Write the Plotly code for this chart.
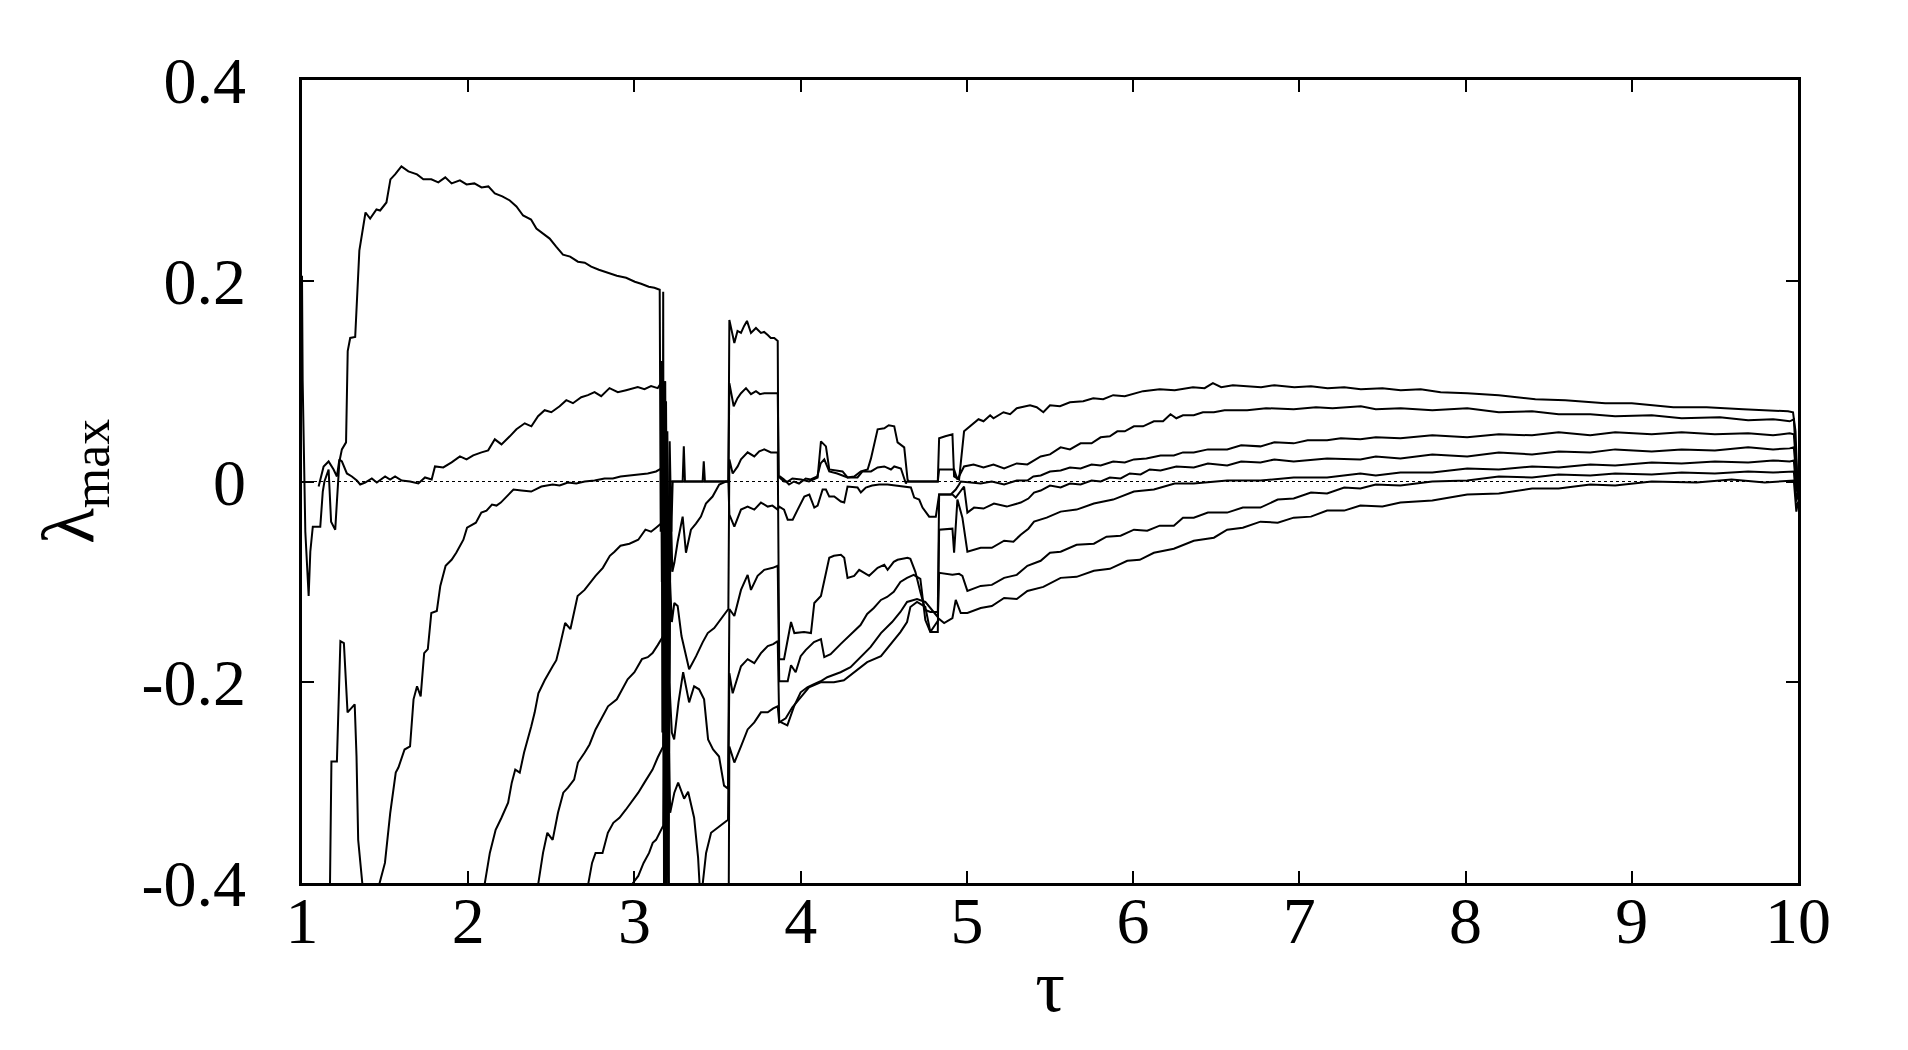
import plotly.graph_objects as go

# tick labels
x_ticks = [1, 2, 3, 4, 5, 6, 7, 8, 9, 10]
x_tick_text = ["1", "2", "3", "4", "5", "6", "7", "8", "9", "10"]
y_ticks = [0.4, 0.2, 0, -0.2, -0.4]
y_tick_text = ["0.4", "0.2", "0", "-0.2", "-0.4"]

# curve A (top one)
tau_a = [1.000, 1.004, 1.02, 1.04, 1.05, 1.065, 1.11, 1.125, 1.135, 1.16, 1.175, 1.20, 1.21, 1.225, 1.24, 1.265,
         1.275, 1.29, 1.32, 1.33, 1.345, 1.382, 1.41, 1.448, 1.47, 1.508, 1.532, 1.56, 1.598, 1.64, 1.692, 1.73,
         1.778, 1.82, 1.862, 1.90, 1.950, 1.99, 2.037, 2.08, 2.121, 2.16, 2.205, 2.25, 2.290, 2.33, 2.378, 2.41,
         2.444, 2.49, 2.529, 2.57, 2.613, 2.66, 2.701, 2.74, 2.786, 2.84, 2.894, 2.95, 3.002, 3.04, 3.086, 3.12, 3.152,
         3.158, 3.163, 3.168, 3.173, 3.178, 3.185, 3.19, 3.198, 3.206, 3.215,
         3.24, 3.29, 3.297, 3.304, 3.41, 3.417, 3.424, 3.565,
         3.571, 3.601, 3.62, 3.641, 3.66, 3.677, 3.701, 3.731, 3.761, 3.78, 3.802, 3.82, 3.841, 3.862,
         3.866, 3.9, 3.922, 3.95, 4.002, 4.05, 4.102, 4.112, 4.122, 4.152, 4.172, 4.252, 4.282, 4.322, 4.362, 4.403,
         4.423, 4.463, 4.503, 4.53, 4.563, 4.583, 4.623, 4.643, 4.65, 4.825, 4.833, 4.87, 4.913, 4.923, 4.953, 4.983,
         5.043, 5.07, 5.10, 5.14, 5.16, 5.22, 5.26, 5.30, 5.38, 5.42, 5.46, 5.50, 5.56, 5.62, 5.70, 5.76, 5.82, 5.88,
         5.95, 6.06, 6.16, 6.25, 6.36, 6.43, 6.48, 6.53, 6.6, 6.77, 6.85, 6.97, 7.07, 7.17, 7.27, 7.37, 7.5, 7.61,
         7.73, 7.85, 8.01, 8.2, 8.42, 8.6, 8.84, 9.0, 9.25, 9.45, 9.67, 9.85, 9.94, 9.97, 9.985, 10.0]
lam_a = [0.205, 0.10, -0.05, -0.114, -0.07, -0.045, -0.045, -0.01, 0.0, 0.012, -0.04, -0.048, -0.02, 0.02, 0.032, 0.039,
         0.13, 0.143, 0.144, 0.18, 0.23, 0.268, 0.262, 0.271, 0.27, 0.278, 0.301, 0.306, 0.314, 0.309, 0.306, 0.301,
         0.301, 0.298, 0.303, 0.297, 0.300, 0.296, 0.297, 0.293, 0.294, 0.287, 0.284, 0.28, 0.274, 0.265, 0.261, 0.252,
         0.248, 0.242, 0.234, 0.226, 0.224, 0.219, 0.218, 0.214, 0.211, 0.208, 0.205, 0.203, 0.199, 0.197, 0.194, 0.193, 0.191,
         -0.05, 0.12, -0.25, 0.189, -0.42, 0.1, -0.3, 0.05, -0.1, 0.0,
         0.0, 0.0, 0.035, 0.0, 0.0, 0.020, 0.0, 0.0,
         0.161, 0.138, 0.15, 0.148, 0.155, 0.160, 0.148, 0.153, 0.148, 0.149, 0.146, 0.143, 0.143, 0.140,
         0.005, 0.0, 0.000, 0.003, 0.002, 0.0, 0.004, 0.02, 0.040, 0.035, 0.012, 0.010, 0.004, 0.005, 0.010, 0.012,
         0.023, 0.052, 0.053, 0.056, 0.055, 0.039, 0.034, 0.002, 0.0, 0.0, 0.043, 0.045, 0.047, 0.005, 0.002, 0.050,
         0.058, 0.062, 0.060, 0.066, 0.063, 0.069, 0.067, 0.073, 0.076, 0.074, 0.069, 0.076, 0.075, 0.079, 0.080, 0.083, 0.082, 0.086,
         0.085, 0.090, 0.092, 0.091, 0.094, 0.093, 0.098, 0.094, 0.096, 0.094, 0.096, 0.094, 0.095, 0.093, 0.094, 0.092, 0.093, 0.091,
         0.092, 0.089, 0.088, 0.086, 0.082, 0.081, 0.078, 0.078, 0.074, 0.074, 0.072, 0.071, 0.070, 0.069, 0.05, -0.018]

# curve B
tau_b = [1.10, 1.13, 1.16, 1.19, 1.21, 1.225, 1.24, 1.27, 1.30, 1.33, 1.35, 1.38, 1.42, 1.45, 1.50, 1.53, 1.56, 1.60,
         1.65, 1.70, 1.74, 1.78, 1.80, 1.85, 1.90, 1.95, 1.99, 2.03, 2.08, 2.12, 2.16, 2.20, 2.25, 2.29, 2.34, 2.38,
         2.42, 2.46, 2.50, 2.55, 2.59, 2.63, 2.68, 2.72, 2.76, 2.80, 2.85, 2.90, 2.95, 3.02, 3.06, 3.10, 3.14, 3.160,
         3.165, 3.172, 3.18, 3.19, 3.2, 3.212, 3.222, 3.23,
         3.24, 3.565,
         3.571, 3.597, 3.62, 3.641, 3.671, 3.701, 3.731, 3.755, 3.781, 3.82, 3.862,
         3.868, 3.9, 3.93, 3.96, 3.99, 4.03, 4.06, 4.1, 4.12, 4.142, 4.172, 4.22, 4.282, 4.342, 4.372, 4.423, 4.463,
         4.503, 4.543, 4.563, 4.603, 4.633, 4.64, 4.825, 4.833, 4.923, 4.943, 4.983,
         5.04, 5.1, 5.16, 5.224, 5.30, 5.364, 5.444, 5.50, 5.564, 5.62, 5.684, 5.75, 5.805, 5.86, 5.905, 5.95, 6.005,
         6.06, 6.125, 6.18, 6.225, 6.26, 6.30, 6.365, 6.42, 6.486, 6.55, 6.686, 6.8, 6.966, 7.1, 7.2, 7.37, 7.46, 7.61,
         7.8, 8.01, 8.2, 8.4, 8.56, 8.75, 8.9, 9.12, 9.3, 9.53, 9.7, 9.85, 9.95, 9.975, 9.99, 10.0]
lam_b = [-0.005, 0.015, 0.02, 0.012, 0.005, 0.022, 0.020, 0.008, 0.005, 0.001, -0.003, -0.001, 0.003, -0.001, 0.005, 0.002, 0.005, 0.001,
         0.0, -0.002, 0.004, 0.002, 0.015, 0.014, 0.019, 0.025, 0.022, 0.026, 0.029, 0.031, 0.042, 0.037, 0.045, 0.052, 0.058, 0.055,
         0.065, 0.071, 0.069, 0.075, 0.081, 0.078, 0.084, 0.086, 0.089, 0.085, 0.093, 0.089, 0.091, 0.094, 0.092, 0.095, 0.093, 0.098,
         -0.1, 0.05, -0.35, 0.08, -0.2, 0.04, -0.05, 0.0,
         0.0, 0.0,
         0.098, 0.075, 0.083, 0.088, 0.093, 0.087, 0.090, 0.087, 0.088, 0.088, 0.088,
         0.006, 0.002, -0.003, 0.0, -0.002, 0.003, 0.002, 0.005, 0.018, 0.022, 0.010, 0.008, 0.004, 0.004, 0.010, 0.010, 0.014,
         0.015, 0.012, 0.015, 0.013, -0.002, 0.0, 0.0, 0.012, 0.012, 0.002, 0.015,
         0.017, 0.014, 0.017, 0.013, 0.018, 0.017, 0.025, 0.027, 0.034, 0.032, 0.038, 0.038, 0.044, 0.045, 0.050, 0.050, 0.055,
         0.055, 0.060, 0.060, 0.067, 0.063, 0.066, 0.066, 0.069, 0.069, 0.071, 0.071, 0.073, 0.072, 0.074, 0.073, 0.075, 0.072, 0.073,
         0.071, 0.073, 0.069, 0.070, 0.067, 0.067, 0.065, 0.066, 0.063, 0.064, 0.061, 0.062, 0.060, 0.062, 0.02, -0.012]

# curve C
tau_c = [1.165, 1.177, 1.21, 1.231, 1.252, 1.274, 1.317, 1.328, 1.338, 1.37, 1.42, 1.455, 1.467, 1.499, 1.531, 1.564,
         1.58, 1.617, 1.650, 1.671, 1.692, 1.714, 1.735, 1.757, 1.778, 1.811, 1.832, 1.864, 1.90, 1.928, 1.971, 1.993,
         2.046, 2.079, 2.11, 2.143, 2.17, 2.196, 2.235, 2.272, 2.32, 2.379, 2.44, 2.508, 2.55, 2.60, 2.65, 2.701, 2.76,
         2.82, 2.87, 2.916, 2.97, 3.02, 3.08, 3.130, 3.173,
         3.178, 3.185, 3.193, 3.2, 3.21, 3.218, 3.228,
         3.24, 3.26, 3.29, 3.31, 3.34, 3.37, 3.40, 3.43, 3.47, 3.51, 3.55, 3.565,
         3.571, 3.601, 3.641, 3.681, 3.721, 3.761, 3.802, 3.83, 3.862,
         3.871, 3.90, 3.922, 3.952, 3.982, 4.022, 4.052, 4.082, 4.102, 4.132, 4.152, 4.172, 4.202, 4.242, 4.262, 4.282,
         4.342, 4.362, 4.392, 4.43, 4.472, 4.523, 4.57, 4.623, 4.663, 4.683, 4.713, 4.733, 4.773, 4.813, 4.833, 4.903,
         4.933, 4.953, 4.963,
         5.083, 5.15, 5.224, 5.30, 5.364, 5.40, 5.444, 5.50, 5.564, 5.62, 5.684, 5.75, 5.805, 5.88, 5.95, 6.005, 6.08,
         6.165, 6.245, 6.30, 6.365, 6.45, 6.566, 6.65, 6.766, 6.85, 6.966, 7.05, 7.167, 7.25, 7.367, 7.46, 7.608,
         7.8, 8.01, 8.2, 8.4, 8.56, 8.75, 8.9, 9.12, 9.3, 9.5, 9.7, 9.85, 9.95, 9.975, 9.99, 10.0]
lam_c = [-0.45, -0.279, -0.279, -0.159, -0.161, -0.230, -0.222, -0.274, -0.357, -0.42, -0.5, -0.45, -0.400, -0.380, -0.330, -0.290,
         -0.285, -0.267, -0.264, -0.217, -0.204, -0.214, -0.171, -0.167, -0.131, -0.129, -0.104, -0.084, -0.078, -0.071, -0.058, -0.046,
         -0.041, -0.031, -0.029, -0.023, -0.024, -0.021, -0.014, -0.008, -0.009, -0.010, -0.005, -0.003, -0.004, -0.001, -0.002, 0.000, 0.001,
         0.003, 0.003, 0.005, 0.006, 0.007, 0.008, 0.010, 0.014,
         -0.3, 0.0, -0.38, -0.05, -0.2, -0.02, -0.09,
         -0.081, -0.06, -0.035, -0.071, -0.048, -0.042, -0.035, -0.022, -0.015, -0.003, 0.0, 0.0,
         -0.033, -0.045, -0.028, -0.025, -0.028, -0.021, -0.025, -0.024, -0.028,
         -0.025, -0.028, -0.038, -0.038, -0.028, -0.015, -0.013, -0.026, -0.024, -0.008, -0.008, -0.015, -0.015, -0.020, -0.021, -0.005,
         -0.006, -0.011, -0.006, -0.004, -0.003, -0.003, -0.004, -0.005, -0.006, -0.016, -0.018, -0.026, -0.035, -0.035, -0.013, -0.013,
         -0.008, -0.003, 0.0,
         -0.002, 0.000, -0.003, 0.001, 0.001, 0.005, 0.006, 0.010, 0.011, 0.014, 0.013, 0.017, 0.016, 0.020, 0.019, 0.022, 0.023,
         0.026, 0.026, 0.029, 0.029, 0.032, 0.032, 0.036, 0.035, 0.039, 0.038, 0.041, 0.041, 0.043, 0.042, 0.044, 0.043,
         0.046, 0.044, 0.047, 0.046, 0.049, 0.046, 0.049, 0.047, 0.049, 0.047, 0.048, 0.046, 0.048, 0.047, 0.01, -0.008]

# curve D
tau_d = [2.07, 2.100, 2.13, 2.165, 2.20, 2.240, 2.262, 2.283, 2.31, 2.336, 2.379, 2.40, 2.422, 2.46, 2.508, 2.53, 2.551,
         2.583, 2.615, 2.658, 2.70, 2.766, 2.81, 2.852, 2.88, 2.916, 2.97, 3.023, 3.066, 3.10, 3.130, 3.173,
         3.178, 3.184, 3.19, 3.197, 3.205, 3.214, 3.225,
         3.24, 3.26, 3.283, 3.329, 3.371, 3.411, 3.441, 3.48, 3.521, 3.545, 3.565,
         3.571, 3.591, 3.621, 3.641, 3.681, 3.721, 3.751, 3.781, 3.821, 3.862,
         3.871, 3.90, 3.942, 3.962, 4.02, 4.062, 4.082, 4.122, 4.172, 4.20, 4.242, 4.262, 4.282, 4.322, 4.352, 4.38,
         4.412, 4.463, 4.503, 4.523, 4.56, 4.583, 4.643, 4.66, 4.69, 4.72, 4.75, 4.78, 4.825, 4.833, 4.913, 4.933, 4.96, 4.983,
         5.003, 5.043, 5.10, 5.163, 5.24, 5.324, 5.37, 5.404, 5.444, 5.50, 5.564, 5.62, 5.684, 5.75, 5.805, 5.86, 5.925,
         5.98, 6.045, 6.10, 6.165, 6.26, 6.365, 6.45, 6.566, 6.65, 6.766, 6.85, 6.966, 7.167, 7.367, 7.46, 7.608,
         7.8, 8.01, 8.2, 8.4, 8.56, 8.75, 8.9, 9.12, 9.3, 9.5, 9.7, 9.85, 9.95, 9.975, 9.99, 10.0]
lam_d = [-0.5, -0.400, -0.37, -0.347, -0.335, -0.320, -0.30, -0.287, -0.29, -0.270, -0.244, -0.230, -0.211, -0.198, -0.184, -0.178, -0.164,
         -0.141, -0.147, -0.114, -0.108, -0.094, -0.086, -0.074, -0.070, -0.064, -0.062, -0.058, -0.048, -0.050, -0.046, -0.040,
         -0.2, 0.1, -0.3, 0.0, -0.42, -0.1, -0.14,
         -0.121, -0.124, -0.154, -0.187, -0.174, -0.160, -0.151, -0.146, -0.137, -0.132, -0.127,
         0.022, 0.008, 0.015, 0.022, 0.029, 0.025, 0.030, 0.032, 0.029, 0.029,
         -0.177, -0.177, -0.140, -0.151, -0.150, -0.151, -0.121, -0.114, -0.076, -0.074, -0.073, -0.076, -0.096, -0.094, -0.088, -0.091,
         -0.094, -0.086, -0.083, -0.088, -0.080, -0.078, -0.076, -0.077, -0.090, -0.110, -0.128, -0.13, -0.13, -0.013, -0.013, -0.016, -0.01, -0.005,
         -0.031, -0.026, -0.027, -0.022, -0.025, -0.021, -0.017, -0.011, -0.009, -0.004, -0.006, -0.002, -0.003, 0.001, 0.000, 0.004, 0.003,
         0.008, 0.007, 0.012, 0.011, 0.015, 0.014, 0.018, 0.016, 0.020, 0.019, 0.022, 0.020, 0.023, 0.022, 0.025, 0.023,
         0.027, 0.025, 0.029, 0.027, 0.030, 0.029, 0.032, 0.030, 0.032, 0.031, 0.034, 0.032, 0.033, 0.034, 0.0, -0.015]

# curve E
tau_e = [2.40, 2.422, 2.45, 2.476, 2.508, 2.540, 2.572, 2.60, 2.637, 2.66, 2.701, 2.73, 2.766, 2.80, 2.841, 2.894, 2.93,
         2.959, 3.00, 3.045, 3.08, 3.109, 3.14, 3.173,
         3.18, 3.19, 3.2, 3.21, 3.225,
         3.239, 3.265, 3.293, 3.329, 3.359, 3.389, 3.419, 3.443, 3.473, 3.509, 3.539, 3.563,
         3.571, 3.601, 3.641, 3.681, 3.701, 3.741, 3.781, 3.832, 3.862,
         3.871, 3.922, 3.942, 3.97, 4.0, 4.03, 4.08, 4.122, 4.142, 4.18, 4.24, 4.30, 4.36, 4.40, 4.44, 4.483, 4.52, 4.56,
         4.60, 4.64, 4.68, 4.72, 4.75, 4.78, 4.825, 4.833, 4.913, 4.923, 4.943, 4.973,
         5.003, 5.083, 5.15, 5.224, 5.28, 5.324, 5.37, 5.404, 5.48, 5.564, 5.66, 5.764, 5.88, 6.005, 6.125, 6.25, 6.365,
         6.566, 6.766, 6.966, 7.167, 7.367, 7.46, 7.608,
         7.8, 8.01, 8.2, 8.4, 8.56, 8.75, 8.9, 9.12, 9.3, 9.5, 9.7, 9.85, 9.95, 9.975, 9.99, 10.0]
lam_e = [-0.5, -0.400, -0.37, -0.350, -0.357, -0.330, -0.310, -0.305, -0.297, -0.28, -0.270, -0.262, -0.247, -0.237, -0.224, -0.217, -0.205,
         -0.197, -0.190, -0.177, -0.175, -0.171, -0.163, -0.154,
         -0.45, -0.05, -0.35, -0.2, -0.25,
         -0.257, -0.22, -0.190, -0.220, -0.204, -0.207, -0.217, -0.257, -0.267, -0.274, -0.303, -0.306,
         -0.127, -0.134, -0.108, -0.093, -0.108, -0.094, -0.088, -0.086, -0.084,
         -0.199, -0.199, -0.183, -0.19, -0.174, -0.168, -0.16, -0.157, -0.175, -0.172, -0.162, -0.152, -0.143, -0.132, -0.126, -0.118, -0.115, -0.110,
         -0.100, -0.096, -0.093, -0.097, -0.138, -0.150, -0.150, -0.048, -0.047, -0.071, -0.018, -0.036,
         -0.070, -0.066, -0.066, -0.059, -0.060, -0.053, -0.047, -0.040, -0.036, -0.030, -0.028, -0.022, -0.018, -0.010, -0.008, -0.002, -0.002,
         0.001, 0.001, 0.004, 0.004, 0.008, 0.006, 0.009,
         0.009, 0.013, 0.012, 0.015, 0.014, 0.017, 0.016, 0.019, 0.018, 0.020, 0.019, 0.021, 0.020, 0.021, -0.01, -0.005]

# curve F
tau_f = [2.70, 2.723, 2.745, 2.766, 2.808, 2.84, 2.873, 2.91, 2.948, 2.98, 3.023, 3.06, 3.109, 3.14, 3.173,
         3.18, 3.19, 3.2, 3.215, 3.24,
         3.263, 3.299, 3.323, 3.359, 3.383, 3.398, 3.431, 3.461, 3.50, 3.539, 3.563,
         3.571, 3.591, 3.641, 3.681, 3.721, 3.761, 3.802, 3.835, 3.862,
         3.871, 3.92, 3.96, 4.0, 4.04, 4.08, 4.12, 4.16, 4.24, 4.30, 4.36, 4.42, 4.483, 4.55, 4.60, 4.64, 4.70, 4.75,
         4.80, 4.825, 4.833, 4.913, 4.953, 4.973,
         5.003, 5.083, 5.15, 5.224, 5.30, 5.364, 5.444, 5.50, 5.564, 5.66, 5.764, 5.84, 5.925, 6.005, 6.085, 6.16, 6.245,
         6.30, 6.365, 6.45, 6.566, 6.66, 6.766, 6.87, 6.966, 7.07, 7.167, 7.27, 7.367, 7.46, 7.608,
         7.8, 8.01, 8.2, 8.4, 8.56, 8.75, 8.9, 9.12, 9.3, 9.5, 9.7, 9.85, 9.95, 9.975, 9.99, 10.0]
lam_f = [-0.5, -0.400, -0.38, -0.370, -0.370, -0.35, -0.340, -0.335, -0.327, -0.320, -0.310, -0.300, -0.287, -0.275, -0.264,
         -0.1, -0.45, -0.2, -0.33, -0.31,
         -0.300, -0.316, -0.309, -0.335, -0.375, -0.42, -0.370, -0.350, -0.345, -0.340, -0.337,
         -0.191, -0.211, -0.184, -0.177, -0.181, -0.171, -0.164, -0.162, -0.159,
         -0.239, -0.243, -0.224, -0.21, -0.205, -0.202, -0.199, -0.195, -0.19, -0.185, -0.175, -0.165, -0.151, -0.14, -0.13, -0.12, -0.117, -0.12,
         -0.13, -0.135, -0.091, -0.093, -0.092, -0.094,
         -0.109, -0.104, -0.103, -0.096, -0.093, -0.084, -0.079, -0.071, -0.070, -0.063, -0.062, -0.055, -0.054, -0.048, -0.049, -0.044, -0.044,
         -0.036, -0.036, -0.031, -0.031, -0.026, -0.026, -0.018, -0.017, -0.011, -0.012, -0.006, -0.007, -0.003, -0.004,
         0.000, 0.001, 0.005, 0.004, 0.007, 0.006, 0.008, 0.007, 0.009, 0.008, 0.010, 0.009, 0.010, 0.010, -0.02, -0.01]

# curve G (bottom one)
tau_g = [2.97, 2.991, 3.023, 3.055, 3.088, 3.11, 3.130, 3.15, 3.173,
         3.18, 3.19, 3.2, 3.21, 3.23, 3.565,
         3.571, 3.601, 3.641, 3.681, 3.721, 3.761, 3.802, 3.835, 3.862,
         3.871, 3.91, 3.95, 4.0, 4.05, 4.12, 4.2, 4.26, 4.32, 4.40, 4.483, 4.55, 4.60, 4.64, 4.66, 4.70, 4.75, 4.78,
         4.80, 4.825, 4.833, 4.863, 4.913, 4.933, 4.963,
         5.003, 5.083, 5.15, 5.224, 5.30, 5.364, 5.46, 5.564, 5.66, 5.764, 5.86, 5.965, 6.04, 6.125, 6.245, 6.365, 6.486,
         6.566, 6.66, 6.766, 6.87, 6.966, 7.07, 7.167, 7.27, 7.367, 7.5, 7.608,
         7.8, 8.01, 8.2, 8.4, 8.56, 8.75, 8.9, 9.12, 9.39, 9.6, 9.8, 9.95, 9.975, 9.99, 10.0]
lam_g = [-0.5, -0.400, -0.393, -0.38, -0.370, -0.36, -0.357, -0.35, -0.343,
         -0.2, -0.45, -0.3, -0.45, -0.5, -0.5,
         -0.264, -0.280, -0.264, -0.247, -0.240, -0.230, -0.230, -0.226, -0.224,
         -0.24, -0.236, -0.225, -0.215, -0.205, -0.2, -0.2, -0.198, -0.19, -0.18, -0.174, -0.16, -0.15, -0.14, -0.125, -0.12, -0.125, -0.15,
         -0.145, -0.14, -0.137, -0.141, -0.136, -0.118, -0.131,
         -0.131, -0.126, -0.124, -0.116, -0.117, -0.109, -0.105, -0.096, -0.095, -0.089, -0.087, -0.079, -0.078, -0.071, -0.067, -0.059, -0.056,
         -0.048, -0.046, -0.040, -0.041, -0.036, -0.035, -0.029, -0.029, -0.024, -0.025, -0.021,
         -0.019, -0.013, -0.012, -0.007, -0.007, -0.003, -0.004, 0.000, -0.001, 0.002, -0.001, 0.001, 0.001, -0.03, -0.02]

curves = [(tau_a, lam_a), (tau_b, lam_b), (tau_c, lam_c), (tau_d, lam_d),
          (tau_e, lam_e), (tau_f, lam_f), (tau_g, lam_g)]

fig = go.Figure()

# zero reference line, thin dotted
fig.add_trace(go.Scatter(x=[1, 10], y=[0, 0], mode='lines',
                         line=dict(color='black', width=1, dash='3px,3px'),
                         hoverinfo='skip', showlegend=False))

for tau, lam in curves:
    fig.add_trace(go.Scatter(x=tau, y=lam, mode='lines',
                             line=dict(color='black', width=2),
                             showlegend=False))

font_main = "Liberation Serif, Times New Roman, serif"

fig.update_layout(
    width=1892, height=1034,
    margin=dict(l=294, r=102, t=72, b=159),
    paper_bgcolor='white', plot_bgcolor='white',
    font=dict(family=font_main, color='black', size=66),
    xaxis=dict(range=[1, 10], tickvals=x_ticks, ticktext=x_tick_text,
               ticks='inside', ticklen=12, tickwidth=2, tickcolor='black',
               showline=True, linewidth=2.5, linecolor='black', mirror='allticks',
               showgrid=False, zeroline=False, ticklabelstandoff=-22,
               tickfont=dict(size=66, family=font_main),
               title=dict(text='τ', font=dict(size=74, family=font_main), standoff=4)),
    yaxis=dict(range=[-0.4, 0.4], tickvals=y_ticks, ticktext=y_tick_text,
               ticks='inside', ticklen=12, tickwidth=2, tickcolor='black',
               showline=True, linewidth=2.5, linecolor='black', mirror='allticks',
               showgrid=False, zeroline=False, ticklabelstandoff=40,
               tickfont=dict(size=66, family=font_main),
               title=dict(text='λ<sub>max</sub>', font=dict(size=74, family=font_main), standoff=24)),
)

fig.write_html("out.html")
